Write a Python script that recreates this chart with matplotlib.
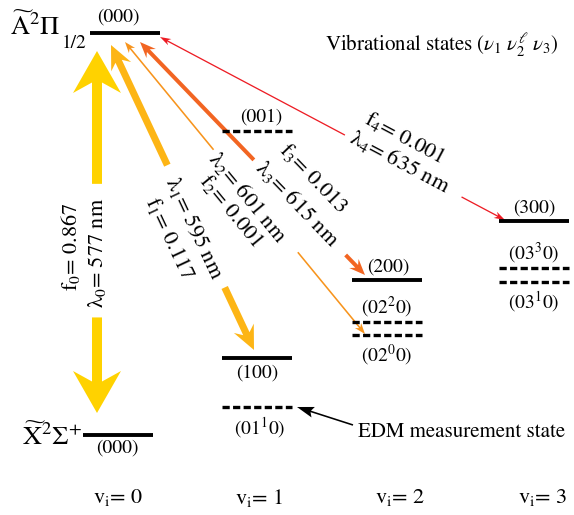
import numpy as np
import matplotlib
matplotlib.use('Agg')
import matplotlib.pyplot as plt
from matplotlib.patches import FancyArrow

plt.rcParams['font.family'] = ['STIXGeneral', 'DejaVu Sans']
plt.rcParams['mathtext.fontset'] = 'stix'
plt.rcParams['lines.scale_dashes'] = False

# ---------------- data ----------------
# vibrational levels (schematic vertical position, column)
level_names = ['A000', 'X000', '001', '100', '0110', '200', '0220', '0200', '300', '0330', '0310']
level_labels = ['(000)', '(000)', '(001)', '(100)', '(01$^1$0)', '(200)',
                '(02$^2$0)', '(02$^0$0)', '(300)', '(03$^3$0)', '(03$^1$0)']
level_x = [125, 118, 257, 257, 257, 387, 387, 387, 534, 534, 534]
level_energy = [33, 435, 131, 358, 407, 280, 322, 335, 221, 268, 282]
level_solid = [True, True, False, True, False, True, False, False, True, False, False]

# transitions from A(000) to X-state levels
trans_lower = ['X000', '100', '0200', '200', '300']
trans_f = ['0.867', '0.117', '0.001', '0.013', '0.001']
trans_lambda = ['577', '595', '601', '615', '635']

vi_labels = ['0', '1', '2', '3']

# ---------------- style ----------------
label_dx = [-7, -1, 4, 0, 3, 1, 0, 0, 0, 0, 0]
label_dy = [-16, 13, -14, 15, 21, -13, -15, 20, -13, -15, 20]
line_half = 35

tr_colors = ['#FFD200', '#FDB515', '#F7941D', '#F26522', '#ED1C24']
tr_width = [10, 7, 1.6, 4, 1.3]
tr_hw = [48, 22, 8, 13, 7]
tr_hl = [42, 24, 11, 16, 11]
tr_top = [(97, 51), (111, 45), (125, 42), (140, 42), (160, 37)]
tr_bot_x = [97, 254, 365, 365, 505]
tr_bot_dy = [-22, -8, -1, -5, -1]
tr_gap = [(0.367, 0.736), (0.394, 0.795), (0.369, 0.72), (0.506, 0.914), (0.536, 0.874)]
f_pos = [(70, 247), (170, 238), (231, 211), (313, 178), (405, 138)]
l_pos = [(97, 253), (194, 228), (248, 197), (298, 204), (400, 162)]

fig = plt.figure(figsize=(5.74, 5.15), dpi=100)
ax = fig.add_axes([0, 0, 1, 1])
ax.set_xlim(0, 574)
ax.set_ylim(515, 0)
ax.axis('off')

# levels
for name, lab, x, y, solid, ldx, ldy in zip(level_names, level_labels, level_x,
                                           level_energy, level_solid, label_dx, label_dy):
    if solid:
        ax.plot([x - line_half, x + line_half], [y, y], color='black', lw=2.8,
                solid_capstyle='butt')
    else:
        ax.plot([x - line_half, x + line_half], [y, y], color='black', lw=2.4,
                dashes=(5.2, 2.4), dash_capstyle='butt')
    ax.text(x + ldx, y + ldy, lab, ha='center', va='center', fontsize=14)

# transitions
for i, lower in enumerate(trans_lower):
    x0, y0 = tr_top[i]
    y1 = level_energy[level_names.index(lower)] + tr_bot_dy[i]
    x1 = tr_bot_x[i]
    t1, t2 = tr_gap[i]
    ga = (x0 + t1 * (x1 - x0), y0 + t1 * (y1 - y0))
    gb = (x0 + t2 * (x1 - x0), y0 + t2 * (y1 - y0))
    kw = dict(width=tr_width[i], head_width=tr_hw[i], head_length=tr_hl[i],
              length_includes_head=True, overhang=0.25, color=tr_colors[i], lw=0)
    ax.add_patch(FancyArrow(ga[0], ga[1], x0 - ga[0], y0 - ga[1], **kw))
    ax.add_patch(FancyArrow(gb[0], gb[1], x1 - gb[0], y1 - gb[1], **kw))
    ang = -np.degrees(np.arctan2(y1 - y0, x1 - x0))
    if i == 0:
        ang = 90
    ax.text(*f_pos[i], 'f$_{%d}$= %s' % (i, trans_f[i]), rotation=ang,
            rotation_mode='anchor', ha='center', va='center', fontsize=16)
    ax.text(*l_pos[i], 'λ$_{%d}$= %s nm' % (i, trans_lambda[i]), rotation=ang,
            rotation_mode='anchor', ha='center', va='center', fontsize=16)

# state labels
ax.text(10, 35, r'$\widetilde{\mathrm{A}}^{2}\Pi$', ha='left', va='baseline', fontsize=19)
ax.text(62, 48, '1/2', ha='left', va='baseline', fontsize=14)
ax.text(22, 445, r'$\widetilde{\mathrm{X}}^{2}\Sigma^{+}$', ha='left', va='baseline', fontsize=19)

# vi labels
for lab, x in zip(vi_labels, [118, 259, 400, 543]):
    ax.text(x, 498, r'v$_\mathrm{i}$= ' + lab, ha='center', va='center', fontsize=16)

ax.text(325, 45, r'Vibrational states ($\nu_1\ \nu_2^{\ell}\ \nu_3$)', ha='left',
        va='center', fontsize=15)

# EDM annotation
ax.add_patch(FancyArrow(353, 425, 297 - 353, 407 - 425, width=1.6, head_width=11,
                        head_length=17, length_includes_head=True, overhang=0.15,
                        color='black', lw=0))
ax.text(358, 432, 'EDM measurement state', ha='left', va='center', fontsize=15)

fig.savefig('out.png', dpi=100)
